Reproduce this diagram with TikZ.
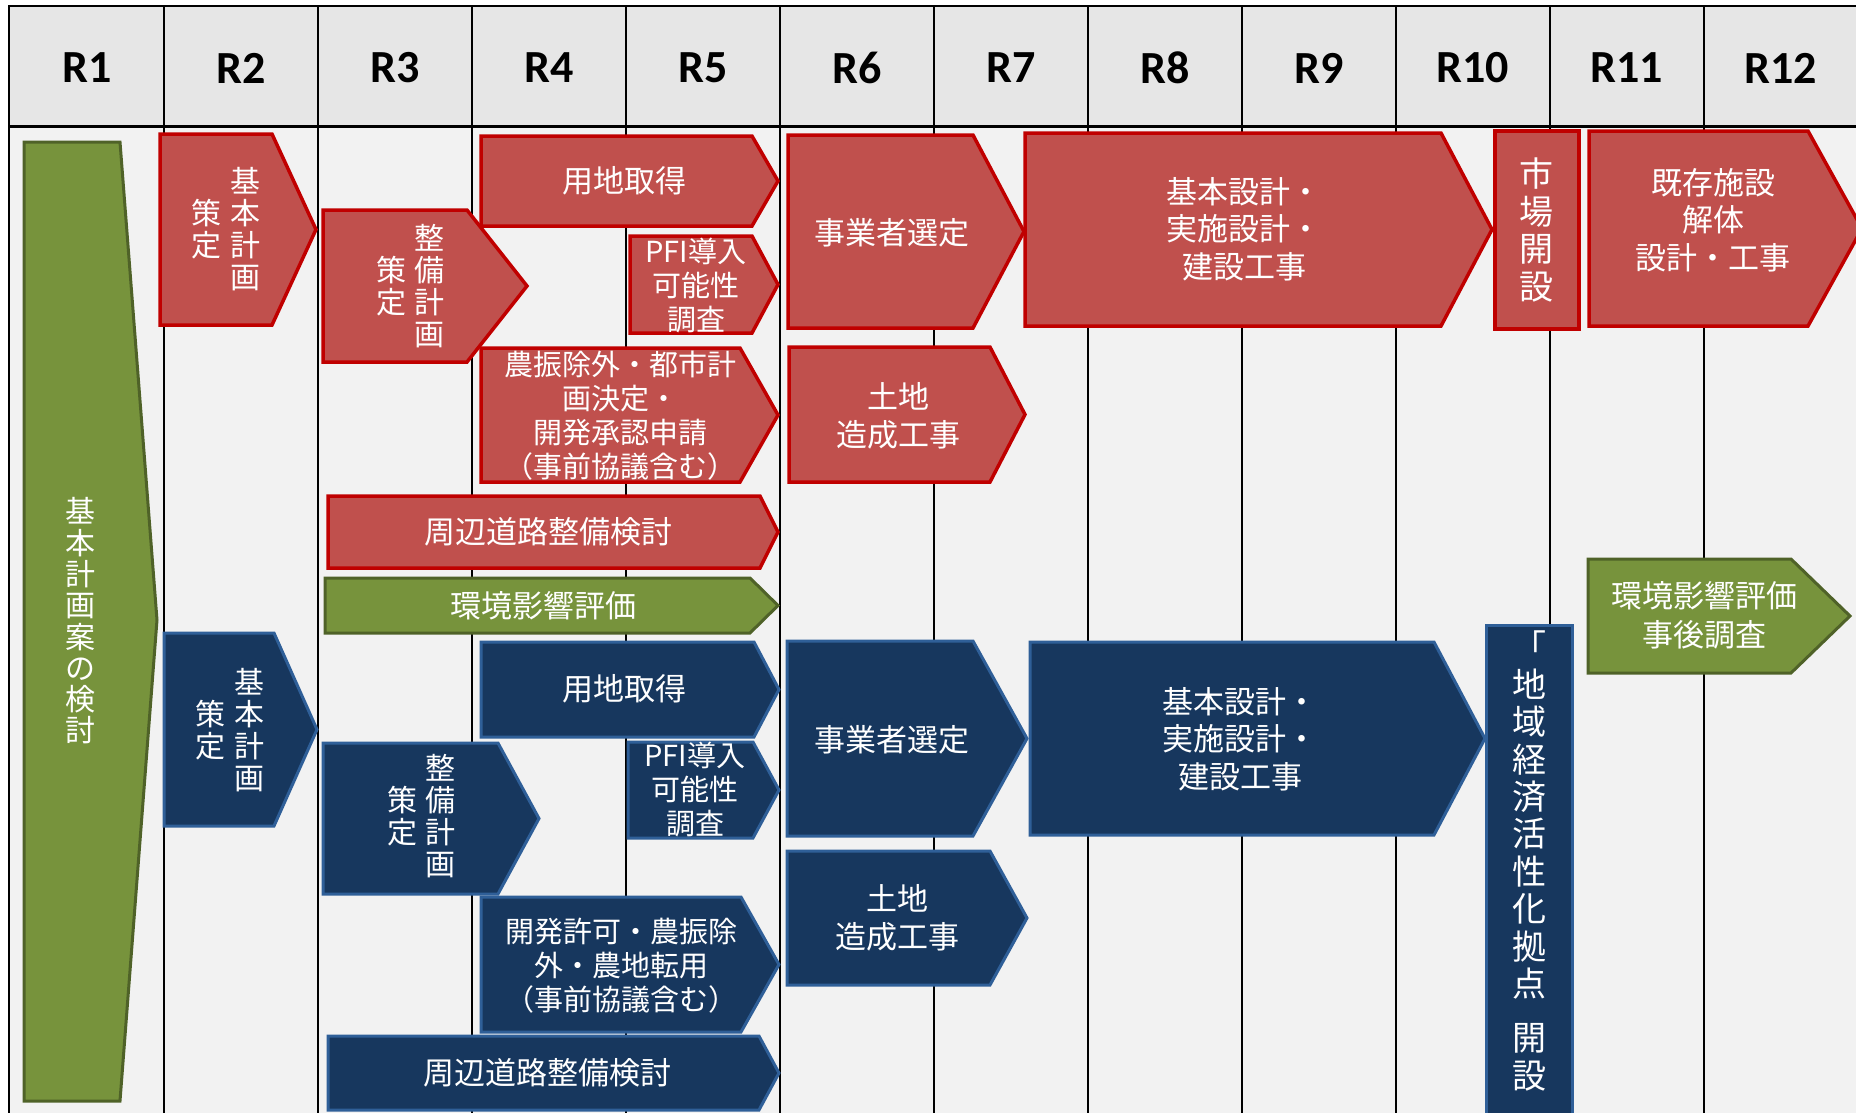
\documentclass[tikz,border=0pt]{standalone}
\usepackage{fontspec}
\newfontfamily\jp{Noto Sans CJK JP}
\newfontfamily\hdrfont{Carlito}
\definecolor{hdrbg}{HTML}{E6E6E6}
\definecolor{bodybg}{HTML}{F2F2F2}
\definecolor{redfill}{HTML}{C0504D}
\definecolor{redline}{HTML}{C00000}
\definecolor{navyfill}{HTML}{17375E}
\definecolor{navyline}{HTML}{2F5F98}
\definecolor{greenfill}{HTML}{77933C}
\definecolor{greenline}{HTML}{4F6228}
\tikzset{
  redbox/.style={fill=redfill,draw=redline,line width=3.5pt},
  navybox/.style={fill=navyfill,draw=navyline,line width=3pt},
  greenbox/.style={fill=greenfill,draw=greenline,line width=3pt},
  gridline/.style={draw=black,line width=2pt},
  hdrlbl/.style={font=\hdrfont\bfseries\fontsize{46}{50}\selectfont,inner sep=0pt,text=black},
  lbl/.style={text=white,align=center,inner sep=0pt,font=\jp\fontsize{31}{37.5}\selectfont},
  lblsm/.style={text=white,align=center,inner sep=0pt,font=\jp\fontsize{29}{34}\selectfont},
  vlbl/.style={text=white,align=center,inner sep=0pt,font=\jp\fontsize{30}{32}\selectfont},
  vbig/.style={text=white,align=center,inner sep=0pt,font=\jp\fontsize{34}{37.4}\selectfont},
  vgreen/.style={text=white,align=center,inner sep=0pt,font=\jp\fontsize{30}{31.3}\selectfont},
}
\newcommand\hplate[6]{\draw[#1] (#2,#3) -- (#4,#3) -- (#5,{(#3+#6)/2}) -- (#4,#6) -- (#2,#6) -- cycle;}
\begin{document}
\begin{tikzpicture}[x=1pt,y=-1pt]
\useasboundingbox (0,0) rectangle (1856,1112);
\clip (0,0) rectangle (1856,1112);
% background grid
\fill[hdrbg] (9,6) rectangle (1860,126);
\fill[bodybg] (9,126) rectangle (1860,1115);
\foreach \k in {1,...,11} \draw[gridline] ({10+154*\k},6) -- ({10+154*\k},1115);
\draw[gridline] (9,6) -- (9,1115);
\draw[gridline,line width=2.5pt] (8,6) -- (1860,6);
\draw[gridline,line width=3pt] (8,126) -- (1860,126);
\foreach \k in {1,...,12} \node[hdrlbl] (hR\k) at ({87+154*(\k-1)},68) {R\k};
% big green arrow
\draw[greenbox] (24,142) -- (120,142) -- (157,620) -- (120,1101) -- (24,1101) -- cycle;
% red shapes
\hplate{redbox}{160}{134}{272}{316}{325}
\hplate{redbox}{323}{210}{467}{527}{362}
\hplate{redbox}{481}{136}{752}{778}{226}
\hplate{redbox}{630}{236}{752}{778}{333}
\hplate{redbox}{481}{348}{740}{778}{482}
\hplate{redbox}{788}{135}{973}{1024}{328}
\hplate{redbox}{789}{347}{990}{1025}{482}
\hplate{redbox}{1025}{133}{1441}{1492}{326}
\draw[redbox] (1495,131) rectangle (1579,329);
\hplate{redbox}{1589}{131}{1808}{1862}{326}
\hplate{redbox}{328}{496}{760}{778}{568}
% green shapes
\hplate{greenbox}{325}{578}{750}{778}{633}
\hplate{greenbox}{1588}{559}{1791}{1850}{673}
% navy shapes
\hplate{navybox}{164}{633}{274}{317}{826}
\hplate{navybox}{323}{743}{498}{539}{894}
\hplate{navybox}{481}{642}{754}{779}{737}
\hplate{navybox}{628}{742}{753}{779}{838}
\hplate{navybox}{787}{641}{973}{1027}{836}
\hplate{navybox}{787}{851}{990}{1027}{985}
\hplate{navybox}{481}{897}{741}{779}{1032}
\hplate{navybox}{328}{1036}{759}{779}{1110}
\hplate{navybox}{1030}{642}{1434}{1485}{835}
\draw[navybox] (1486,625) rectangle (1572,1125);
% labels: green
\node[vgreen] (g1) at (80,621) {基\\本\\計\\画\\案\\の\\検\\討};
\node[lbl] (g3) at (543,606) {環境影響評価};
\node[lbl,font=\jp\fontsize{31}{39}\selectfont] (g11) at (1704,615) {環境影響評価\\事後調査};
% labels: red
\node[vlbl] (r2a) at (245,229) {基\\本\\計\\画};
\node[vlbl] (r2b) at (206,229) {策\\定};
\node[vlbl] (r3a) at (429,286) {整\\備\\計\\画};
\node[vlbl] (r3b) at (391,286) {策\\定};
\node[lbl] (r4a) at (624,181) {用地取得};
\node[lblsm] (r5a) at (696,286) {PFI導入\\可能性\\調査};
\node[lblsm] (r4b) at (620,416) {農振除外・都市計\\画決定・\\開発承認申請\\（事前協議含む）};
\node[lbl] (r6a) at (892,233) {事業者選定};
\node[lbl] (r6b) at (898,416) {土地\\造成工事};
\node[lbl] (r8a) at (1244,229) {基本設計・\\実施設計・\\建設工事};
\node[vbig] (r10a) at (1536,230) {市\\場\\開\\設};
\node[lbl] (r11a) at (1713,220) {既存施設\\解体\\設計・工事};
\node[lbl] (r3c) at (548,532) {周辺道路整備検討};
% labels: navy
\node[vlbl] (n2a) at (249,730) {基\\本\\計\\画};
\node[vlbl] (n2b) at (210,730) {策\\定};
\node[vlbl] (n3a) at (440,816) {整\\備\\計\\画};
\node[vlbl] (n3b) at (402,816) {策\\定};
\node[lbl] (n4a) at (624,689) {用地取得};
\node[lblsm] (n5a) at (695,790) {PFI導入\\可能性\\調査};
\node[lbl] (n6a) at (892,740) {事業者選定};
\node[lbl] (n6b) at (897,918) {土地\\造成工事};
\node[lblsm] (n4b) at (621,966) {開発許可・農振除\\外・農地転用\\（事前協議含む）};
\node[lbl] (n3c) at (547,1073) {周辺道路整備検討};
\node[lbl] (n8a) at (1240,739) {基本設計・\\実施設計・\\建設工事};
\node[vbig] (n10a) at (1529,861) {\vphantom{国}「\\地\\域\\経\\済\\活\\性\\化\\拠\\点\\[17pt]開\\設};
\end{tikzpicture}
\end{document}
